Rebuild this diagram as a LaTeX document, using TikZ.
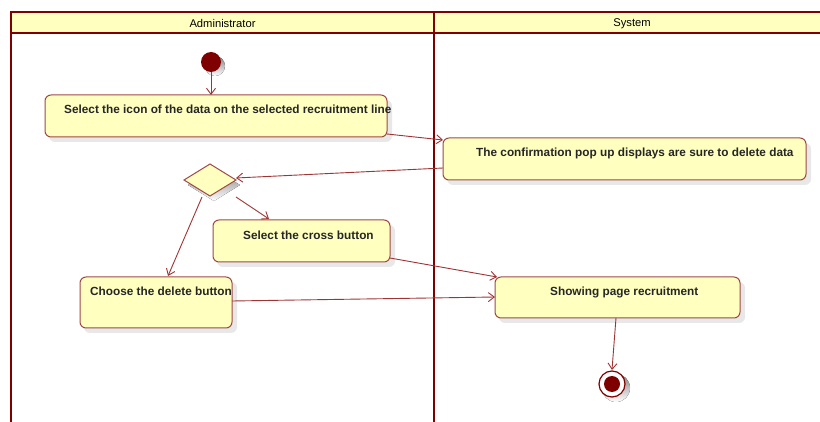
\documentclass[tikz,border=0pt]{standalone}
\usepackage{fontspec}
\setmainfont{Liberation Sans}
\usetikzlibrary{arrows.meta,shapes.geometric}
\definecolor{lane}{HTML}{800000}
\definecolor{boxline}{HTML}{A04848}
\definecolor{boxfill}{HTML}{FFFFC0}
\definecolor{hdrfill}{HTML}{FFFFC0}
\definecolor{edge}{HTML}{A03434}
\definecolor{dot}{HTML}{7F0000}
\definecolor{shade}{HTML}{E8E8E8}
\tikzset{
  act/.style={draw=boxline, line width=1pt, fill=boxfill, rounded corners=6pt},
  shd/.style={fill=shade, rounded corners=6pt},
  lbl/.style={font=\fontsize{11.8}{14}\selectfont\bfseries, inner sep=0pt, anchor=base west, text=black!85},
  flow/.style={draw=edge, line width=0.9pt, -{Straight Barb[length=6pt,width=9pt,line width=0.9pt]}},
  lanel/.style={draw=lane, line width=1.6pt},
}
\begin{document}
\begin{tikzpicture}[x=1pt,y=-1pt]
\useasboundingbox (0,0) rectangle (820,422);
\fill[white] (0,0) rectangle (820,422);
% swimlanes
\fill[hdrfill] (11,12) rectangle (822,33);
\draw[lanel] (11,424) -- (11,12) -- (822,12);
\draw[lanel] (11,33) -- (822,33);
\draw[lanel] (434,12) -- (434,424);
\node[font=\fontsize{11.2}{13}\selectfont, inner sep=0pt] (h1) at (222.5,23.5) {Administrator};
\node[font=\fontsize{11.2}{13}\selectfont, inner sep=0pt] (h2) at (632,23.5) {System};
% shadows
\fill[shd] (49,100) rectangle (392,142);
\fill[shd] (447,143) rectangle (811,185);
\fill[shd] (217,225) rectangle (395,267);
\fill[shd] (84,282) rectangle (237,333);
\fill[shd] (499,282) rectangle (745,323);
\fill[shade] (215,66) circle (10);
\fill[shade] (616,388) circle (14);
\fill[shade] (188,185) -- (214,169) -- (240,185) -- (214,201) -- cycle;
% start
\fill[dot] (211,62) circle (10);
\coordinate (start) at (211,62);
% activity boxes
\draw[act] (45,95) rectangle (387,137);
\node[lbl] (t1) at (64,114) {Select the icon of the data on the selected recruitment line};
\draw[act] (443,138) rectangle (806,180);
\node[lbl] (t2) at (476,157) {The confirmation pop up displays are sure to delete data};
\draw[act] (213,220) rectangle (390,262);
\node[lbl] (t3) at (243,240) {Select the cross button};
\draw[act] (80,277) rectangle (232,328);
\node[lbl] (t4) at (90,296) {Choose the delete button};
\draw[act] (495,277) rectangle (740,318);
\node[lbl] (t5) at (550,296) {Showing page recruitment};
% decision
\draw[draw=boxline, line width=1pt, fill=boxfill] (184,180) -- (210,164) -- (236,180) -- (210,196) -- cycle;
% end
\draw[draw=lane, line width=1.2pt, fill=white] (612,384) circle (13);
\fill[dot] (612,384) circle (8);
% connector coordinates
\coordinate (s0) at (211,72);
\coordinate (a1t) at (211,95);
\coordinate (a1r) at (387,134);
\coordinate (a2l) at (443,140);
\coordinate (a2lb) at (443,168);
\coordinate (dr) at (236,178);
\coordinate (dbr) at (236,197);
\coordinate (a3t) at (269,219);
\coordinate (dbl) at (202,197);
\coordinate (a4t) at (168,276);
\coordinate (a3r) at (390,258);
\coordinate (a5lt) at (497,277);
\coordinate (a4r) at (232,301);
\coordinate (a5l) at (495,297);
\coordinate (a5b) at (616,318);
\coordinate (endt) at (612,370);
\draw[flow] (s0) -- (a1t);
\draw[flow] (a1r) -- (a2l);
\draw[flow] (a2lb) -- (dr);
\draw[flow] (dbr) -- (a3t);
\draw[flow] (dbl) -- (a4t);
\draw[flow] (a3r) -- (a5lt);
\draw[flow] (a4r) -- (a5l);
\draw[flow] (a5b) -- (endt);
\end{tikzpicture}
\end{document}
